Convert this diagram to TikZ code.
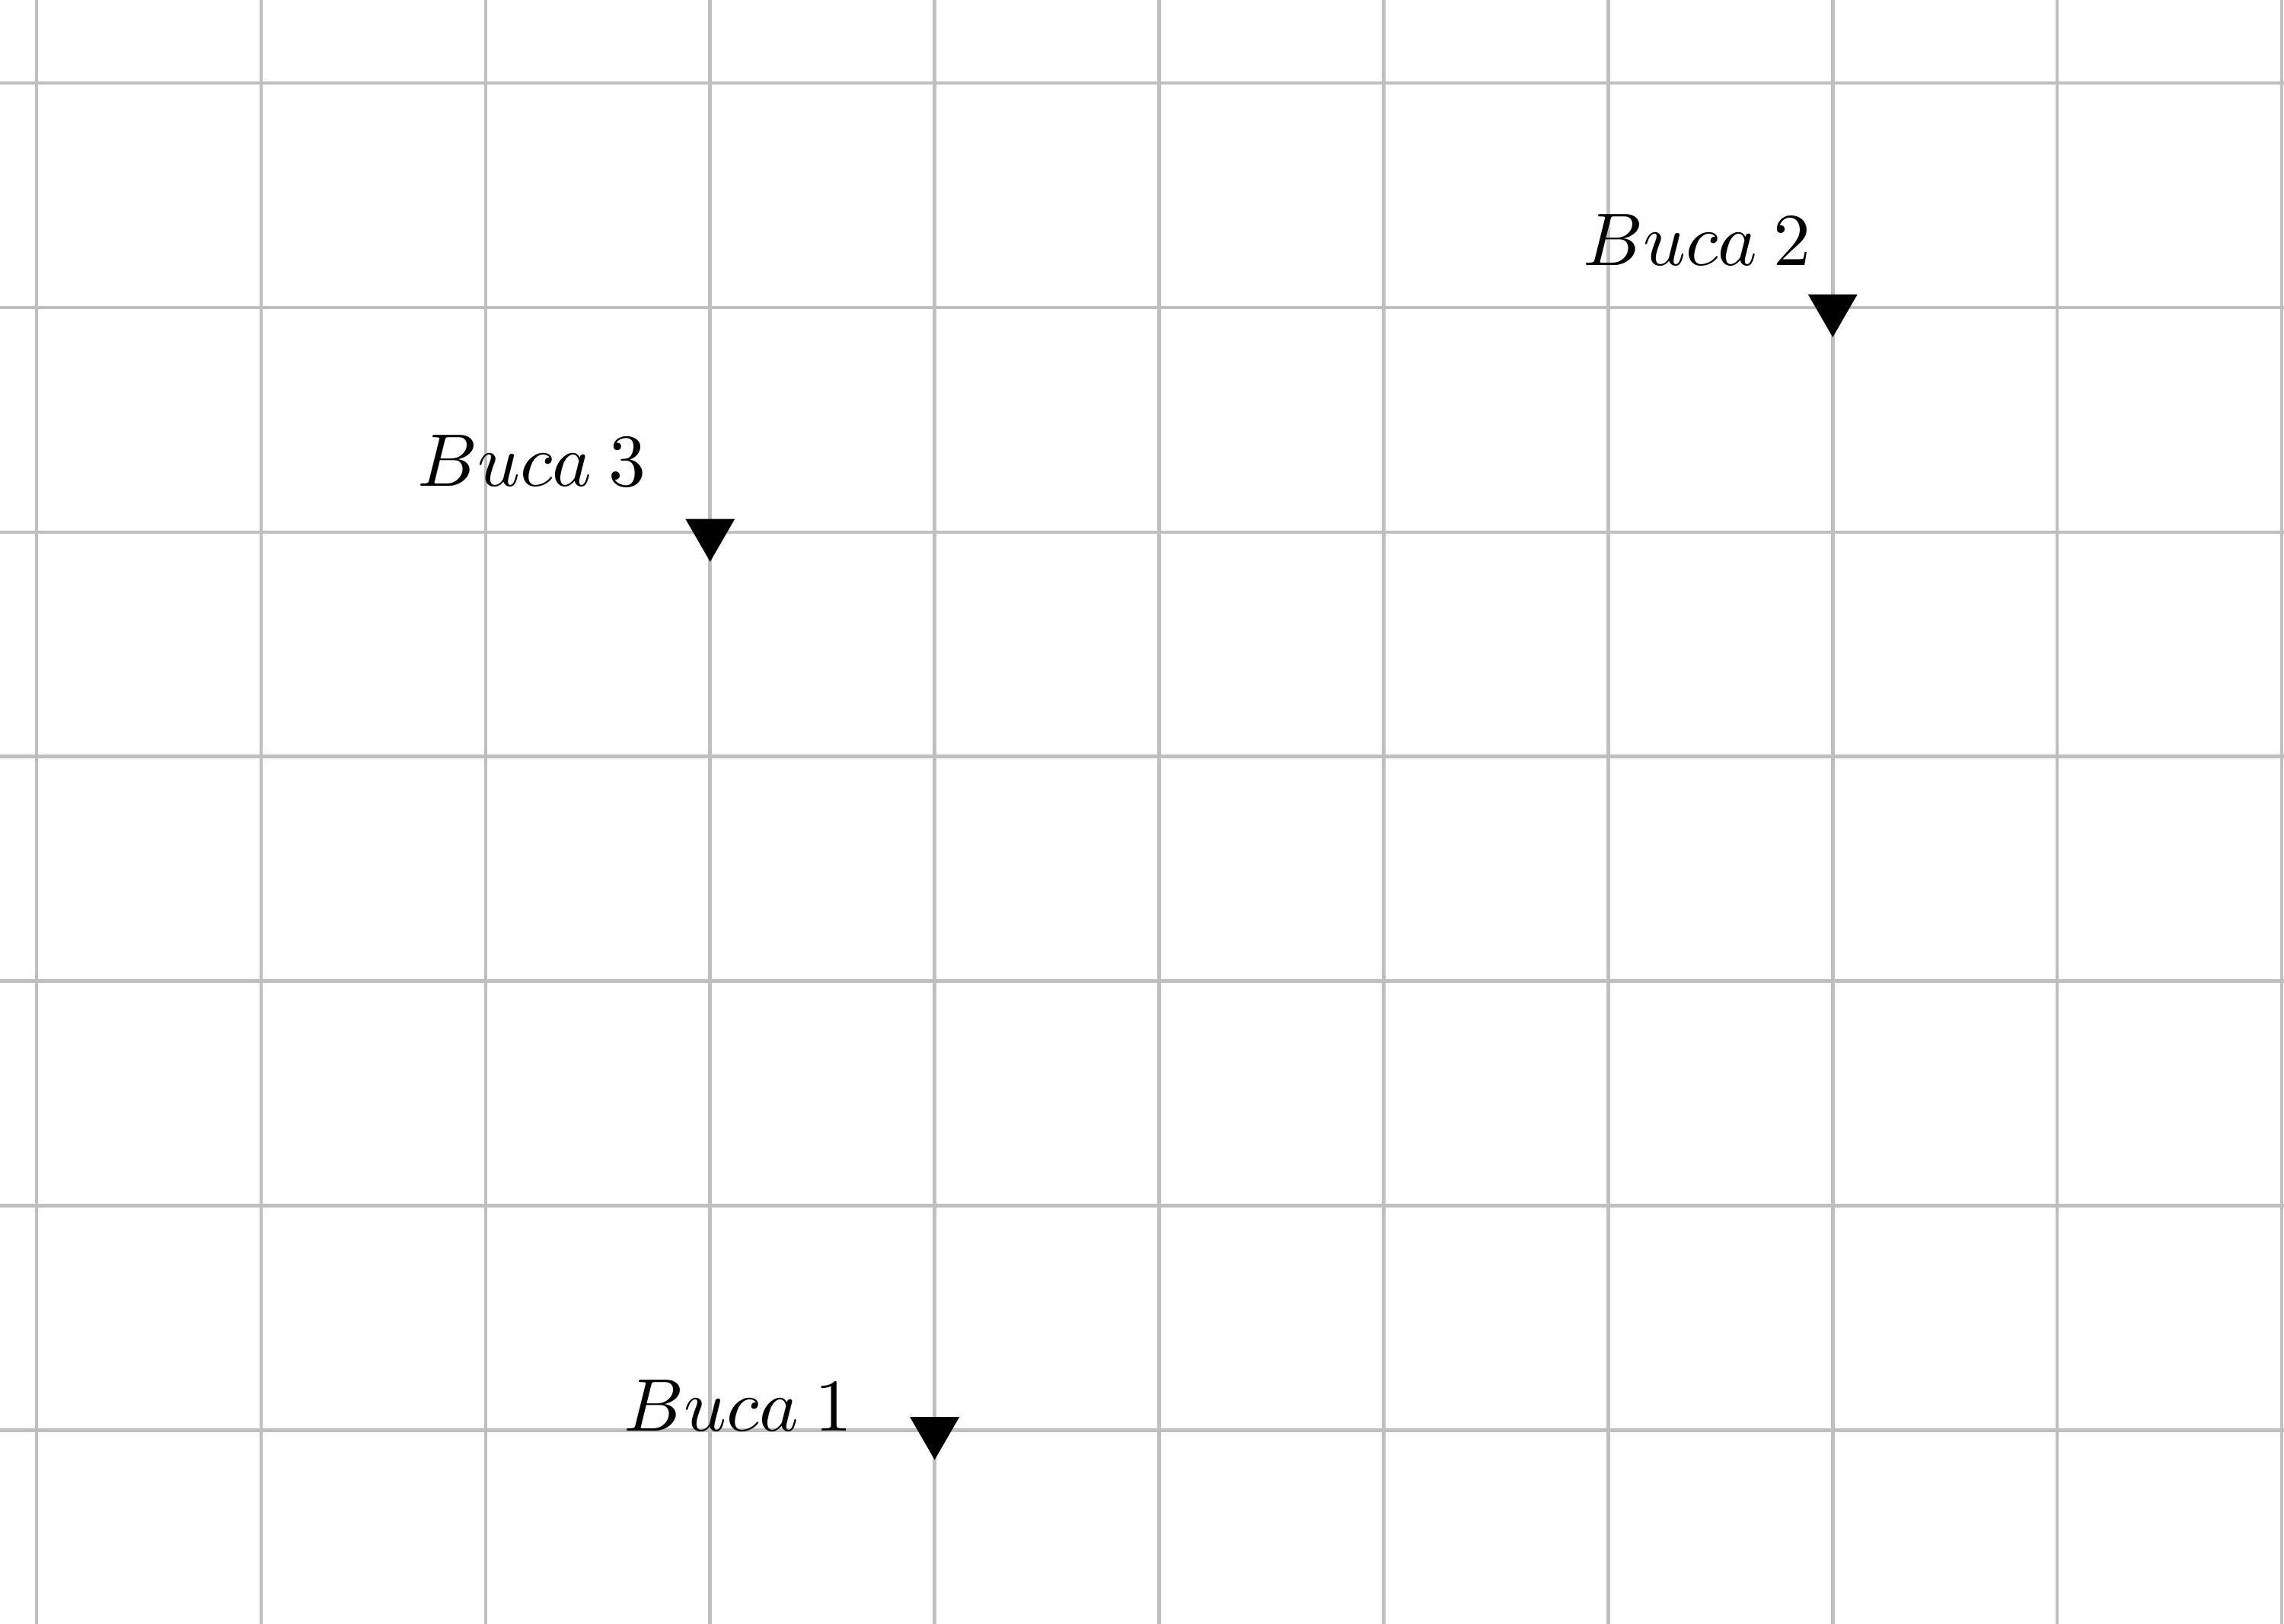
\documentclass[tikz,border=0pt]{standalone}
\usepackage{graphicx}
\usetikzlibrary{shapes.geometric}
\newcommand{\bucalabel}[1]{\scalebox{0.944}{$Buca\:#1$}}
\begin{document}
\begin{tikzpicture}[
  gridline/.style={black!25, line width=0.45pt},
  hole/.style={regular polygon, regular polygon sides=3, shape border rotate=180,
               fill=black, inner sep=0pt, minimum size=0.254cm},
  lbl/.style={anchor=base west, inner sep=0pt}]
\useasboundingbox (-0.163,-0.860) rectangle (10.01,6.37);
\clip (-0.163,-0.860) rectangle (10.01,6.37);
\draw[gridline] (-1,-1) grid (11,7);
\node[hole] (b1) at (4,-0.005) {};
\node[hole] (b2) at (8,4.995) {};
\node[hole] (b3) at (3,3.995) {};
\node[lbl] (l1) at (2.61,-0.005) {\bucalabel{1}};
\node[lbl] (l2) at (6.88,5.188) {\bucalabel{2}};
\node[lbl] (l3) at (1.69,4.203) {\bucalabel{3}};
\end{tikzpicture}
\end{document}
